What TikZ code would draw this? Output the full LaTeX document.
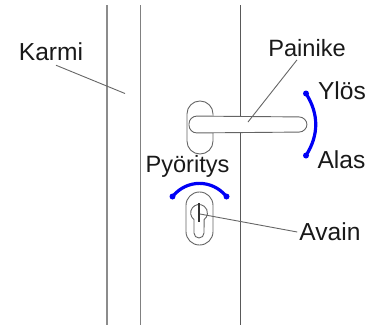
\documentclass[tikz,border=0pt]{standalone}
\usepackage{fontspec}
\setmainfont{Liberation Sans}
\definecolor{bluearc}{RGB}{0,0,245}
\definecolor{part}{RGB}{100,100,100}
\tikzset{
  lbl/.style={inner sep=0pt,font=\fontsize{24.6}{26}\selectfont,text=black!90},
  lblsmall/.style={lbl,font=\fontsize{23.6}{26}\selectfont},
  edgeline/.style={line width=1.1pt},
  partline/.style={draw=part,line width=0.9pt,fill=white},
  leader/.style={draw=black!60,line width=0.9pt},
  move/.style={draw=bluearc,line width=3.2pt,line cap=round},
  moveend/.style={fill=bluearc}
}
\begin{document}
\begin{tikzpicture}[x=1pt,y=-1pt]
\useasboundingbox (0,0) rectangle (380,325);
% frame and door edges
\draw[edgeline,draw=black!45] (107,5) -- (107,325);
\draw[edgeline,draw=black!50] (140.5,5) -- (140.5,325);
\draw[edgeline,draw=black!65] (240.8,5) -- (240.8,325);
% handle
\draw[partline,rounded corners=12.9pt] (187,101) rectangle (213,154);
\draw[partline,rounded corners=7.9pt] (189,116) -- (307,117) -- (307,132) -- (189,133) -- cycle;
% lock
\draw[partline,rounded corners=13.4pt] (186,192) rectangle (213,245);
\draw[partline,fill=none] (194,219.6) arc[start angle=127,end angle=413,radius=8.4] -- (204,233) arc[start angle=0,end angle=180,radius=5] -- cycle;
\draw[draw=black!80,line width=1.1pt] (199,203) -- (199,222);
% labels
\node[lbl] (karmi) at (51,52) {Karmi};
\node[lblsmall] (painike) at (307,48) {Painike};
\node[lbl] (ylos) at (342,91) {Ylös};
\node[lbl] (alas) at (341.5,160) {Alas};
\node[lblsmall] (poyritys) at (187.5,166) {Pyöritys};
\node[lbl] (avain) at (330,232) {Avain};
% leaders
\coordinate (karmitip) at (125,93.5);
\coordinate (painiketip) at (248,122);
\coordinate (avaintip) at (200,214);
\draw[leader] (karmi.south) ++(5,4) -- (karmitip);
\draw[leader] (painike.south) ++(-10,3) -- (painiketip);
\draw[leader] (avain.west) ++(-2,0) -- (avaintip);
% movement arcs
\coordinate (upend) at (306,93.5);
\coordinate (downend) at (306,155.5);
\coordinate (leftend) at (172.5,196.5);
\coordinate (rightend) at (226.5,196.5);
\draw[move] (upend) .. controls (319,114) and (319,135) .. (downend);
\draw[move] (leftend) .. controls (187,179) and (212,179) .. (rightend);
\fill[moveend] (upend) circle[radius=3pt];
\fill[moveend] (downend) circle[radius=3pt];
\fill[moveend] (leftend) circle[radius=3pt];
\fill[moveend] (rightend) circle[radius=3pt];
\end{tikzpicture}
\end{document}
